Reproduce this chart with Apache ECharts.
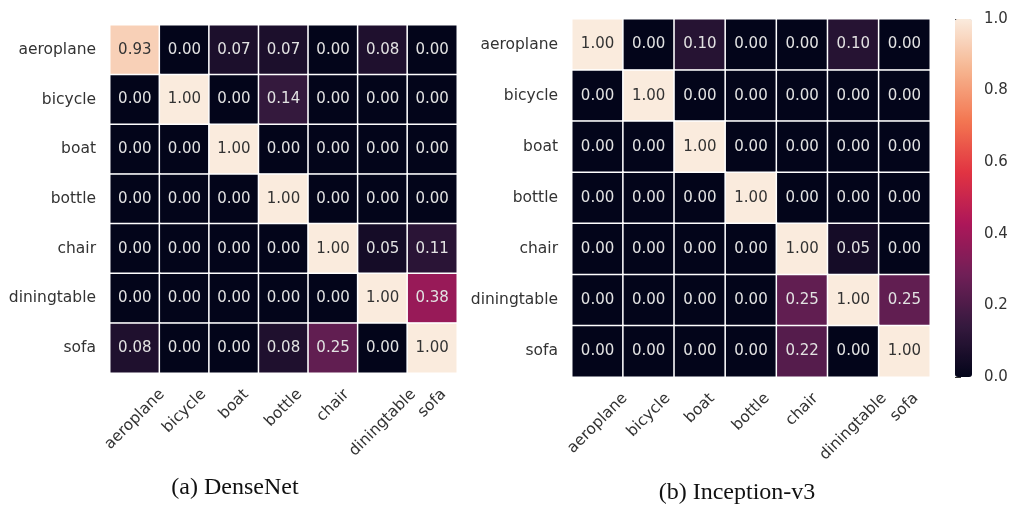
<!DOCTYPE html>
<html>
<head>
<meta charset="utf-8">
<script src="https://cdn.jsdelivr.net/npm/echarts@6/dist/echarts.min.js"></script>
<style>
  html, body { margin: 0; padding: 0; background: #fff; }
  #chart { width: 1013px; height: 506px; }
</style>
</head>
<body>
<div id="chart"></div>
<script>
// class names, same order on both axes
var classes = ['aeroplane', 'bicycle', 'boat', 'bottle', 'chair', 'diningtable', 'sofa'];

// rows = true class (top to bottom), cols = predicted
var denseNet = [
  [0.93, 0.00, 0.07, 0.07, 0.00, 0.08, 0.00],
  [0.00, 1.00, 0.00, 0.14, 0.00, 0.00, 0.00],
  [0.00, 0.00, 1.00, 0.00, 0.00, 0.00, 0.00],
  [0.00, 0.00, 0.00, 1.00, 0.00, 0.00, 0.00],
  [0.00, 0.00, 0.00, 0.00, 1.00, 0.05, 0.11],
  [0.00, 0.00, 0.00, 0.00, 0.00, 1.00, 0.38],
  [0.08, 0.00, 0.00, 0.08, 0.25, 0.00, 1.00]
];
var inceptionV3 = [
  [1.00, 0.00, 0.10, 0.00, 0.00, 0.10, 0.00],
  [0.00, 1.00, 0.00, 0.00, 0.00, 0.00, 0.00],
  [0.00, 0.00, 1.00, 0.00, 0.00, 0.00, 0.00],
  [0.00, 0.00, 0.00, 1.00, 0.00, 0.00, 0.00],
  [0.00, 0.00, 0.00, 0.00, 1.00, 0.05, 0.00],
  [0.00, 0.00, 0.00, 0.00, 0.25, 1.00, 0.25],
  [0.00, 0.00, 0.00, 0.00, 0.22, 0.00, 1.00]
];
var captions = ['(a) DenseNet', '(b) Inception-v3'];
var colorbarTicks = [0, 0.2, 0.4, 0.6, 0.8, 1.0];

// seaborn "rocket"
var rocket = ['#03051a', '#35193e', '#701f57', '#ad1759', '#e13342', '#f37651', '#f6b48f', '#faebdd'];

var TICK_FONT = 15.5;
var tickFontStr = TICK_FONT + 'px "DejaVu Sans"';

function toCells(m) {
  var out = [];
  m.forEach(function (row, r) {
    row.forEach(function (v, c) {
      out.push({
        value: [c, r, v],
        label: { color: v > 0.5 ? '#333' : '#e2e2e2' }
      });
    });
  });
  return out;
}

var labelFont = { fontFamily: 'DejaVu Sans', fontSize: TICK_FONT, color: '#333' };

function catAxisX(gi) {
  // labels drawn below as rotated, centred text (seaborn style)
  return {
    type: 'category', gridIndex: gi, data: classes,
    axisLine: { show: false }, axisTick: { show: false }, splitLine: { show: false },
    axisLabel: { show: false }
  };
}
function catAxisY(gi) {
  return {
    type: 'category', gridIndex: gi, data: classes, inverse: true,
    axisLine: { show: false }, axisTick: { show: false }, splitLine: { show: false },
    axisLabel: Object.assign({ margin: 14, interval: 0 }, labelFont)
  };
}
function cellLabel() {
  return { show: true, fontFamily: 'DejaVu Sans', fontSize: 15,
    formatter: function (p) { return p.value[2].toFixed(2); } };
}

var chart = echarts.init(document.getElementById('chart'));
var option = {
  animation: false,
  backgroundColor: '#fff',
  title: [
    { text: captions[0], left: 230, top: 471, textAlign: 'center',
      textStyle: { fontFamily: 'Liberation Serif', fontSize: 24, fontWeight: 'normal', color: '#111' } },
    { text: captions[1], left: 732, top: 476, textAlign: 'center',
      textStyle: { fontFamily: 'Liberation Serif', fontSize: 24, fontWeight: 'normal', color: '#111' } }
  ],
  grid: [
    { left: 110, top: 25, width: 347, height: 348 },
    { left: 572, top: 19, width: 358, height: 358 },
    { left: 955, top: 19, width: 17, height: 358 }
  ],
  xAxis: [
    catAxisX(0),
    catAxisX(1),
    { type: 'value', gridIndex: 2, show: false, min: 0, max: 1 }
  ],
  yAxis: [
    catAxisY(0),
    catAxisY(1),
    {
      type: 'value', gridIndex: 2, position: 'right', min: 0, max: 1, interval: 0.2,
      axisLine: { show: false }, splitLine: { show: false },
      axisTick: { show: true, length: 6, lineStyle: { color: '#333', width: 1 } },
      axisLabel: Object.assign({}, labelFont, { fontSize: 15, margin: 12,
        formatter: function (v) { return v.toFixed(1); } }),
      data: colorbarTicks
    }
  ],
  visualMap: [
    { type: 'continuous', seriesIndex: 0, min: 0, max: 1, show: false, inRange: { color: rocket } },
    {
      type: 'continuous', seriesIndex: 1, min: 0, max: 1, show: true, calculable: false,
      left: 955, top: 19, itemWidth: 17, itemHeight: 358, text: ['', ''], showLabel: false,
      padding: 0, inRange: { color: rocket }
    }
  ],
  series: [
    {
      type: 'heatmap', xAxisIndex: 0, yAxisIndex: 0, data: toCells(denseNet),
      itemStyle: { borderColor: '#fff', borderWidth: 1.5 },
      label: cellLabel()
    },
    {
      type: 'heatmap', xAxisIndex: 1, yAxisIndex: 1, data: toCells(inceptionV3),
      itemStyle: { borderColor: '#fff', borderWidth: 1.5 },
      label: cellLabel()
    },
    { type: 'scatter', xAxisIndex: 2, yAxisIndex: 2, data: [], silent: true }
  ]
};
chart.setOption(option);

// rotated x tick labels, bounding box centred on the tick, top aligned under the grid
var ctx = document.createElement('canvas').getContext('2d');
ctx.font = tickFontStr;
var gridBottoms = [373, 377];
var texts = [];
[0, 1].forEach(function (ai) {
  classes.forEach(function (name, i) {
    var x = chart.convertToPixel({ xAxisIndex: ai }, i);
    var w = ctx.measureText(name).width;
    var h = TICK_FONT * 1.1;
    var boxH = (w + h) * Math.SQRT1_2;
    texts.push({
      type: 'text', x: x, y: gridBottoms[ai] + 13 + boxH / 2, rotation: Math.PI / 4,
      silent: true,
      style: { text: name, font: tickFontStr, fill: '#333', align: 'center', verticalAlign: 'middle' }
    });
  });
});
chart.setOption({ graphic: texts });
</script>
</body>
</html>
